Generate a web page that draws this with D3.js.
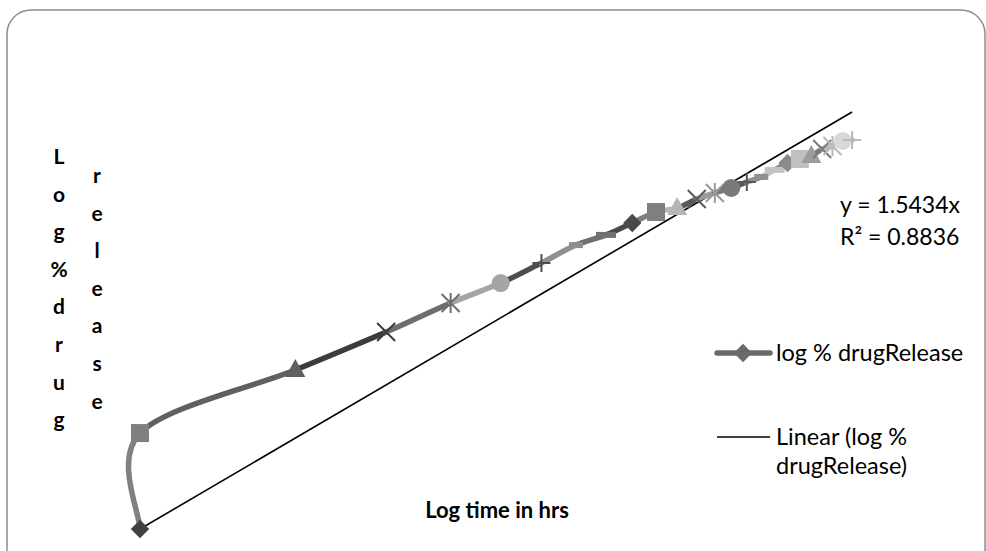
<!DOCTYPE html>
<html><head><meta charset="utf-8">
<script src="https://cdn.jsdelivr.net/npm/d3@7"></script>
<style>body{margin:0;background:#fff;}svg{display:block;}</style>
</head><body>
<svg id="c" width="986" height="551"></svg>
<script>
// ---- data ----
const logTime = [0, 0, 0.301, 0.477, 0.602, 0.699, 0.778, 0.845, 0.903, 0.954, 1.000, 1.041, 1.079, 1.114, 1.146, 1.176, 1.204, 1.230, 1.255, 1.279, 1.301, 1.322, 1.342, 1.362, 1.380];
const logRelease = [0, 0.490, 0.812, 1.006, 1.154, 1.256, 1.359, 1.450, 1.502, 1.563, 1.619, 1.639, 1.685, 1.716, 1.742, 1.772, 1.798, 1.834, 1.869, 1.890, 1.905, 1.941, 1.956, 1.982, 1.987];
const markerShapes = ["diamond","square","triangle","x","star","circle","plus","dash","longdash",
                      "diamond","square","triangle","x","star","circle","plus","dash","longdash",
                      "diamond","square","triangle","x","star","circle","plus"];
const pointColors = ["#404040","#808080","#606060","#3c3c3c","#6e6e6e","#a5a5a5","#4d4d4d","#8f8f8f","#707070",
                     "#494949","#7f7f7f","#b5b5b5","#5a5a5a","#9a9a9a","#7a7a7a","#585858","#909090","#c4c4c4",
                     "#8a8a8a","#c0c0c0","#9c9c9c","#7a7a7a","#b8b8b8","#d9d9d9","#b8b8b8"];
const trendSlope = 1.5434;
const trendR2 = 0.8836;
const seriesName = "log % drugRelease";
const xTitle = "Log time in hrs";
const yTitleCol1 = "Log%drug";
const yTitleCol2 = "release";

// ---- drawing ----
const svg = d3.select("#c");
const FONT = "Lato, 'Open Sans', 'DejaVu Sans', sans-serif";

svg.append("rect").attr("x",7).attr("y",10).attr("width",978).attr("height",570)
  .attr("rx",24).attr("ry",24).attr("fill","#fff").attr("stroke","#8c8c8c").attr("stroke-width",1.5);

const x = d3.scaleLinear().domain([0,1.4]).range([140, 140 + 1.4*516]);
const y = d3.scaleLinear().domain([0,2.5]).range([529, 529 - 2.5*195.8]);

const pts = logTime.map((t,i)=>[x(t), y(logRelease[i])]);

// trendline (through origin)
const tMin = d3.min(logTime), tMax = d3.max(logTime);
svg.append("line")
  .attr("x1", x(tMin)).attr("y1", y(trendSlope*tMin))
  .attr("x2", x(tMax)).attr("y2", y(trendSlope*tMax))
  .attr("stroke","#000").attr("stroke-width",1.6);

// smoothed line, each segment coloured by the point it ends in
const segG = svg.append("g");
for (let i=0;i<pts.length-1;i++){
  const p0 = pts[Math.max(0,i-1)], p1 = pts[i], p2 = pts[i+1], p3 = pts[Math.min(pts.length-1,i+2)];
  const c1 = [p1[0]+(p2[0]-p0[0])/6, p1[1]+(p2[1]-p0[1])/6];
  const c2 = [p2[0]-(p3[0]-p1[0])/6, p2[1]-(p3[1]-p1[1])/6];
  const path = d3.path();
  path.moveTo(p1[0],p1[1]);
  path.bezierCurveTo(c1[0],c1[1],c2[0],c2[1],p2[0],p2[1]);
  segG.append("path").attr("d",path.toString()).attr("fill","none")
    .attr("stroke",pointColors[i+1]).attr("stroke-width",5.5).attr("stroke-linecap","round");
}

function drawMarker(g, shape, cx, cy, color){
  const s = 9;
  switch(shape){
    case "diamond":
      g.append("rect").attr("x",cx-6.5).attr("y",cy-6.5).attr("width",13).attr("height",13)
        .attr("transform",`rotate(45,${cx},${cy})`).attr("fill",color); break;
    case "square":
      g.append("rect").attr("x",cx-9).attr("y",cy-9).attr("width",18).attr("height",18).attr("fill",color); break;
    case "triangle":
      g.append("path").attr("d",`M${cx},${cy-11}L${cx+10},${cy+7}L${cx-10},${cy+7}Z`).attr("fill",color); break;
    case "circle":
      g.append("circle").attr("cx",cx).attr("cy",cy).attr("r",9).attr("fill",color); break;
    case "x":
      g.append("path").attr("d",`M${cx-s},${cy-s}L${cx+s},${cy+s}M${cx-s},${cy+s}L${cx+s},${cy-s}`)
        .attr("stroke",color).attr("stroke-width",2); break;
    case "star":
      g.append("path").attr("d",`M${cx-s},${cy-s}L${cx+s},${cy+s}M${cx-s},${cy+s}L${cx+s},${cy-s}M${cx},${cy-s-1}L${cx},${cy+s+1}`)
        .attr("stroke",color).attr("stroke-width",2); break;
    case "plus":
      g.append("path").attr("d",`M${cx-s},${cy}L${cx+s},${cy}M${cx},${cy-s}L${cx},${cy+s}`)
        .attr("stroke",color).attr("stroke-width",2); break;
    case "dash":
      g.append("rect").attr("x",cx-7).attr("y",cy-3).attr("width",14).attr("height",6).attr("fill",color); break;
    case "longdash":
      g.append("rect").attr("x",cx-10).attr("y",cy-3).attr("width",20).attr("height",6).attr("fill",color); break;
  }
}
const mG = svg.append("g");
pts.forEach((p,i)=>drawMarker(mG, markerShapes[i], p[0], p[1], pointColors[i]));

// axis titles
svg.append("text").attr("x", 497).attr("y", 518).attr("text-anchor","middle")
  .attr("font-family",FONT).attr("font-weight","bold").attr("font-size",22).attr("fill","#000").text(xTitle);

yTitleCol1.split("").forEach((ch,i)=>{
  svg.append("text").attr("x",59).attr("y",164 + i*37.6).attr("text-anchor","middle")
    .attr("font-family",FONT).attr("font-weight","bold").attr("font-size",21).attr("fill","#000").text(ch);
});
yTitleCol2.split("").forEach((ch,i)=>{
  svg.append("text").attr("x",97).attr("y",183 + i*37.6).attr("text-anchor","middle")
    .attr("font-family",FONT).attr("font-weight","bold").attr("font-size",21).attr("fill","#000").text(ch);
});

// trendline equation
svg.append("text").attr("x",840).attr("y",213).attr("font-family",FONT).attr("font-size",23).attr("fill","#000")
  .text(`y = ${trendSlope}x`);
svg.append("text").attr("x",840).attr("y",245).attr("font-family",FONT).attr("font-size",23).attr("fill","#000")
  .text(`R² = ${trendR2}`);

// legend
const lg = svg.append("g");
lg.append("line").attr("x1",717).attr("x2",770).attr("y1",353).attr("y2",353)
  .attr("stroke","#6a6a6a").attr("stroke-width",5.5).attr("stroke-linecap","round");
drawMarker(lg,"diamond",743,353,"#6a6a6a");
lg.append("text").attr("x",776).attr("y",361).attr("font-family",FONT).attr("font-size",23.5).attr("fill","#000").text(seriesName);
lg.append("line").attr("x1",717).attr("x2",770).attr("y1",437).attr("y2",437).attr("stroke","#000").attr("stroke-width",1.6);
lg.append("text").attr("x",776).attr("y",445).attr("font-family",FONT).attr("font-size",23.5).attr("fill","#000").text("Linear (" + seriesName.split(" drug")[0]);
lg.append("text").attr("x",776).attr("y",474).attr("font-family",FONT).attr("font-size",23.5).attr("fill","#000").text("drugRelease)");
</script>
</body></html>
